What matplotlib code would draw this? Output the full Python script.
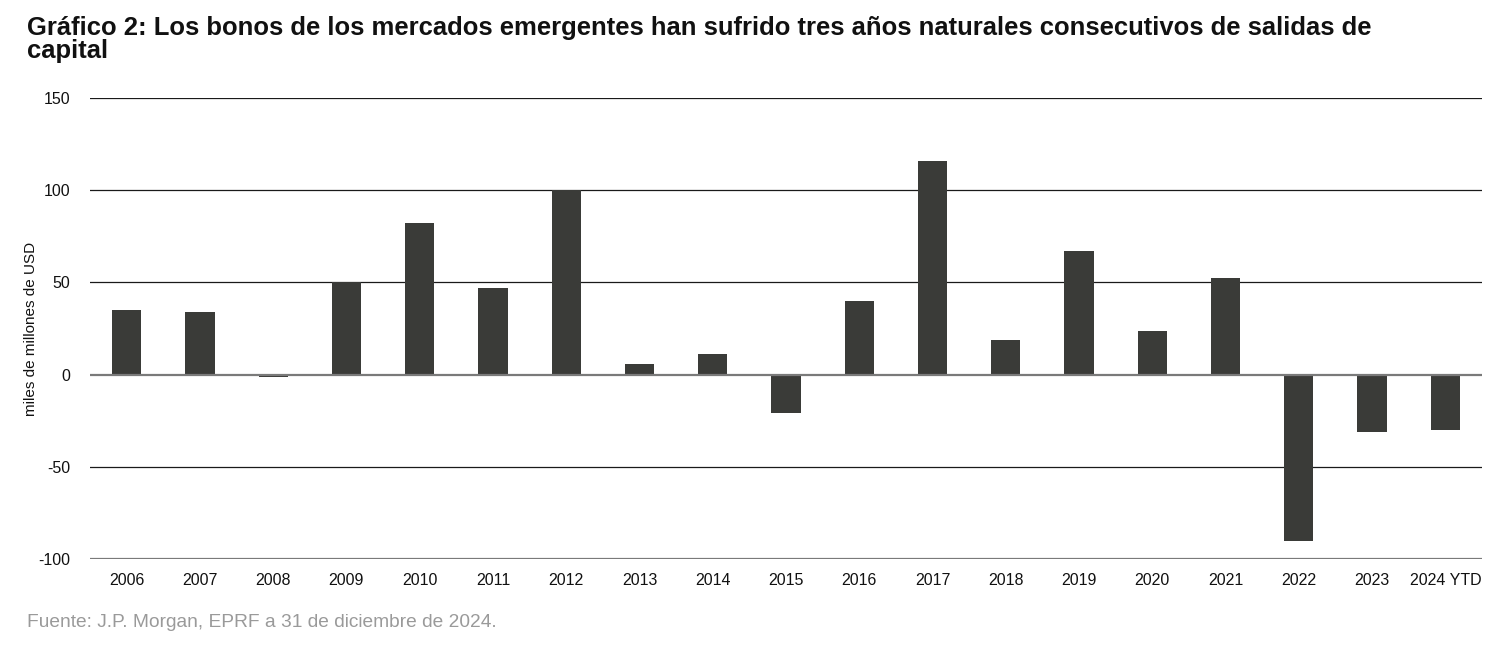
import matplotlib
matplotlib.use("Agg")
import matplotlib.pyplot as plt
import numpy as np

plt.rcParams['font.family'] = ['Liberation Sans', 'DejaVu Sans']

categories = ["2006", "2007", "2008", "2009", "2010", "2011", "2012", "2013", "2014",
              "2015", "2016", "2017", "2018", "2019", "2020", "2021", "2022", "2023", "2024 YTD"]
values = [35, 34, -1.5, 50, 82, 47, 100, 6, 11, -21, 40, 116, 19, 67, 23.5, 52.5, -90, -31, -30]
yticks = [-100, -50, 0, 50, 100, 150]

title = "Gráfico 2: Los bonos de los mercados emergentes han sufrido tres años naturales consecutivos de salidas de\ncapital"
ylabel = "miles de millones de USD"
source = "Fuente: J.P. Morgan, EPRF a 31 de diciembre de 2024."

fig = plt.figure(figsize=(15, 6.45), dpi=100)
ax = fig.add_axes([0.06, 0.1333, 0.928, 0.7147])

x = np.arange(len(categories))
ax.bar(x, values, width=0.40, color="#3a3b38", zorder=3)

ax.set_xlim(-0.5, len(categories) - 0.5)
ax.set_ylim(-100, 150)
ax.set_yticks(yticks)
ax.set_yticklabels([str(t) for t in yticks])
ax.set_xticks(x)
ax.set_xticklabels(categories)

for t in yticks:
    if t == 0 or t == -100:
        ax.axhline(t, color="#7a7a7a", lw=1.6, zorder=4 if t == 0 else 2)
    else:
        ax.axhline(t, color="#1a1a1a", lw=0.9, zorder=1)

for s in ax.spines.values():
    s.set_visible(False)

ax.tick_params(axis='both', length=0, labelsize=11.5, colors="#111111")
ax.tick_params(axis='y', pad=14)
ax.tick_params(axis='x', pad=10)

ax.set_ylabel(ylabel, fontsize=11, color="#111111")
ax.yaxis.set_label_coords(-0.037, 0.5)

fig.text(0.018, 0.975, title, fontsize=18.45, fontweight='bold', ha='left', va='top',
         color="#111111", linespacing=0.95)
fig.text(0.018, 0.035, source, fontsize=13.8, color="#9a9a9a", ha='left', va='center')

fig.savefig("out.png", dpi=100)
